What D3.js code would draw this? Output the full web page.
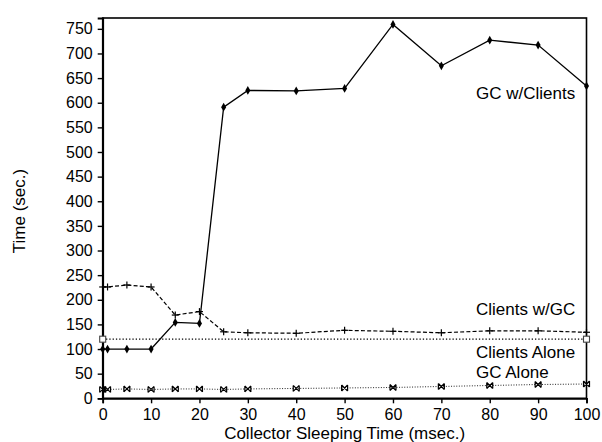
<!DOCTYPE html>
<html><head><meta charset="utf-8">
<script src="https://cdn.jsdelivr.net/npm/d3@7"></script>
<style>
html,body{margin:0;padding:0;background:#fff;}
svg{display:block;font-family:"Liberation Sans",Arial,Helvetica,sans-serif;}
</style></head>
<body><svg id="c" width="602" height="442"></svg>
<script>
const xTicks = [0,10,20,30,40,50,60,70,80,90,100];
const yTicks = [0,50,100,150,200,250,300,350,400,450,500,550,600,650,700,750];
const xGCwClients = [0,1,5,10,15,20,25,30,40,50,60,70,80,90,100];
const gcWithClients = [100,100,100,100,154,152,591,625,624,629,759,675,727,717,634];
const xClientsWGC = [0,1,5,10,15,20,25,30,40,50,60,70,80,90,100];
const clientsWithGC = [226,226,230,226,169,176,135,133,132,138,136,133,137,137,134];
const xClientsAlone = [0,100];
const clientsAlone = [120,120];
const xGCAlone = [0,1,5,10,15,20,25,30,40,50,60,70,80,90,100];
const gcAlone = [18,18,19,18,19,19,18,19,20,21,22,24,26,28,29];
const seriesLabels = ["GC w/Clients","Clients w/GC","Clients Alone","GC Alone"];

const svg = d3.select("#c");
svg.append("rect").attr("width",602).attr("height",442).attr("fill","#fff");
const L=102.7, R=586.5, T=18, B=398.3;
const x = d3.scaleLinear().domain([0,100]).range([L,R]);
const y = d3.scaleLinear().domain([0,772]).range([B,T]);

// frame
svg.append("rect").attr("x",L).attr("y",T).attr("width",R-L).attr("height",B-T)
  .attr("fill","none").attr("stroke","#000").attr("stroke-width",1.6);

const xa = svg.append("g").attr("transform",`translate(0,${B})`)
  .call(d3.axisBottom(x).tickValues(xTicks).tickSize(5).tickPadding(5).tickFormat(d3.format("d")));
const ya = svg.append("g").attr("transform",`translate(${L},0)`)
  .call(d3.axisLeft(y).tickValues(yTicks).tickSize(5).tickPadding(5).tickFormat(d3.format("d")));
[xa,ya].forEach(a=>{
  a.select(".domain").attr("stroke","#000").attr("stroke-width",1.8);
  a.selectAll(".tick line").attr("stroke","#000").attr("stroke-width",1.4);
  a.selectAll("text").attr("font-size",16).attr("fill","#000").attr("font-family","Liberation Sans, Arial, sans-serif");
});

// axis titles
svg.append("text").attr("x",(L+R)/2).attr("y",439).attr("text-anchor","middle")
  .attr("font-size",17).text("Collector Sleeping Time (msec.)");
svg.append("text").attr("transform","translate(25,211) rotate(-90)").attr("text-anchor","middle")
  .attr("font-size",17).text("Time (sec.)");

const line = d3.line().x(d=>x(d[0])).y(d=>y(d[1]));
const z = (xs,vs)=>xs.map((v,i)=>[v,vs[i]]);

const dGC = z(xGCwClients,gcWithClients);
const dCW = z(xClientsWGC,clientsWithGC);
const dCA = z(xClientsAlone,clientsAlone);
const dGA = z(xGCAlone,gcAlone);

svg.append("path").datum(dGA).attr("d",line).attr("fill","none").attr("stroke","#222")
  .attr("stroke-width",1).attr("stroke-dasharray","1,1.6");
svg.append("path").datum(dCA).attr("d",line).attr("fill","none").attr("stroke","#000")
  .attr("stroke-width",1.3).attr("stroke-dasharray","1.3,2");
svg.append("path").datum(dCW).attr("d",line).attr("fill","none").attr("stroke","#000")
  .attr("stroke-width",1.2).attr("stroke-dasharray","4,2.2");
svg.append("path").datum(dGC).attr("d",line).attr("fill","none").attr("stroke","#000")
  .attr("stroke-width",1.3);

// markers
svg.append("g").selectAll("path").data(dGC).join("path")
  .attr("transform",d=>`translate(${x(d[0])},${y(d[1])})`)
  .attr("d",d3.symbol(d3.symbolDiamond,22)()).attr("fill","#000");
const plus = svg.append("g").attr("stroke","#000").attr("stroke-width",1.2);
plus.selectAll("line.h").data(dCW).join("line").attr("class","h")
  .attr("x1",d=>x(d[0])-3.5).attr("x2",d=>x(d[0])+3.5).attr("y1",d=>y(d[1])).attr("y2",d=>y(d[1]));
plus.selectAll("line.v").data(dCW).join("line").attr("class","v")
  .attr("x1",d=>x(d[0])).attr("x2",d=>x(d[0])).attr("y1",d=>y(d[1])-3.5).attr("y2",d=>y(d[1])+3.5);
svg.append("g").selectAll("rect").data(dCA).join("rect")
  .attr("x",d=>x(d[0])-3).attr("y",d=>y(d[1])-3).attr("width",6).attr("height",6)
  .attr("fill","#fff").attr("stroke","#444").attr("stroke-width",1.1);
const xm = svg.append("g").attr("stroke","#000").attr("stroke-width",1.2);
xm.selectAll("path").data(dGA).join("path")
  .attr("d",d=>{const cx=x(d[0]),cy=y(d[1]),s=3;
    return `M${cx-s},${cy-s}L${cx+s},${cy+s}M${cx-s},${cy+s}L${cx+s},${cy-s}M${cx-s},${cy-s}L${cx-s},${cy+s}M${cx+s},${cy-s}L${cx+s},${cy+s}`;});

// series labels
const labelPos = [[476,99],[476,315],[476,358],[476,378]];
svg.append("g").selectAll("text").data(seriesLabels).join("text")
  .attr("x",(d,i)=>labelPos[i][0]).attr("y",(d,i)=>labelPos[i][1])
  .attr("font-size",17).attr("fill","#000").text(d=>d);
</script></body></html>
